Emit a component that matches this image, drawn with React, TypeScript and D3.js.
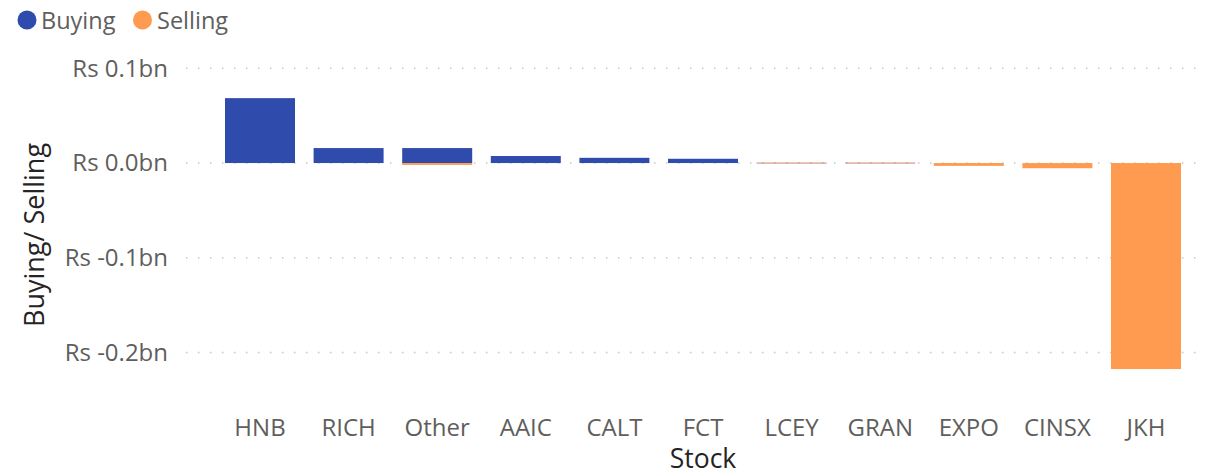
import React from "react";
import * as d3 from "d3";

const categories = ["HNB", "RICH", "Other", "AAIC", "CALT", "FCT", "LCEY", "GRAN", "EXPO", "CINSX", "JKH"];
const buying = [0.0685, 0.0158, 0.0158, 0.0074, 0.0055, 0.0045, 0.0003, 0.0003, 0, 0, 0];
const selling = [0, 0, -0.002, 0, 0, 0, -0.0008, -0.0008, -0.003, -0.0055, -0.2175];
const yTicks = [0.1, 0.0, -0.1, -0.2];

const W = 1205;
const H = 476;
const BLUE = "#2F4BAC";
const ORANGE = "#FF9B50";
const FONT = "'Open Sans', 'Noto Sans', sans-serif";

export default function App() {
  const x = d3
    .scaleBand<string>()
    .domain(categories)
    .range([215.7, 1190.3])
    .paddingInner(0.21)
    .paddingOuter(0.105);
  const y = d3.scaleLinear().domain([-0.2, 0.1]).range([352.5, 68.3]);
  const fmt = (t: number) => `Rs ${t < 0 ? "-" : ""}${d3.format(".1f")(Math.abs(t))}bn`;

  return (
    <svg
      width={W}
      height={H}
      style={{ position: "absolute", left: 0, top: 0, background: "#fff" }}
      fontFamily={FONT}
    >
      {/* legend */}
      <circle cx={27} cy={20} r={9.5} fill={BLUE} />
      <text x={41} y={28.5} fontSize={23.5} fill="#605E5C">Buying</text>
      <circle cx={142.5} cy={20} r={9.5} fill={ORANGE} />
      <text x={157} y={28.5} fontSize={23.5} fill="#605E5C">Selling</text>

      {/* gridlines */}
      {yTicks.map((t) => (
        <g key={t}>
          <line
            x1={186}
            x2={1200}
            y1={y(t)}
            y2={y(t)}
            stroke="#C8C8C8"
            strokeWidth={1.5}
            strokeDasharray="1.5 10.5"
          />
          <text
            x={168}
            y={y(t)}
            dy="0.35em"
            textAnchor="end"
            fontSize={24}
            fill="#605E5C"
          >
            {fmt(t)}
          </text>
        </g>
      ))}

      {/* bars */}
      {categories.map((c, i) => (
        <g key={c}>
          {buying[i] > 0 && (
            <rect
              x={x(c)}
              width={x.bandwidth()}
              y={y(buying[i])}
              height={y(0) - y(buying[i])}
              fill={BLUE}
            />
          )}
          {selling[i] < 0 && (
            <rect
              x={x(c)}
              width={x.bandwidth()}
              y={y(0)}
              height={y(selling[i]) - y(0)}
              fill={ORANGE}
            />
          )}
          <text
            x={(x(c) as number) + x.bandwidth() / 2}
            y={436}
            textAnchor="middle"
            fontSize={24}
            fill="#605E5C"
          >
            {c}
          </text>
        </g>
      ))}

      {/* axis titles */}
      <text x={703} y={468} textAnchor="middle" fontSize={26.5} fill="#252423">
        Stock
      </text>
      <text
        transform={`translate(44, 235) rotate(-90)`}
        textAnchor="middle"
        fontSize={27}
        fill="#252423"
      >
        Buying/ Selling
      </text>
    </svg>
  );
}
